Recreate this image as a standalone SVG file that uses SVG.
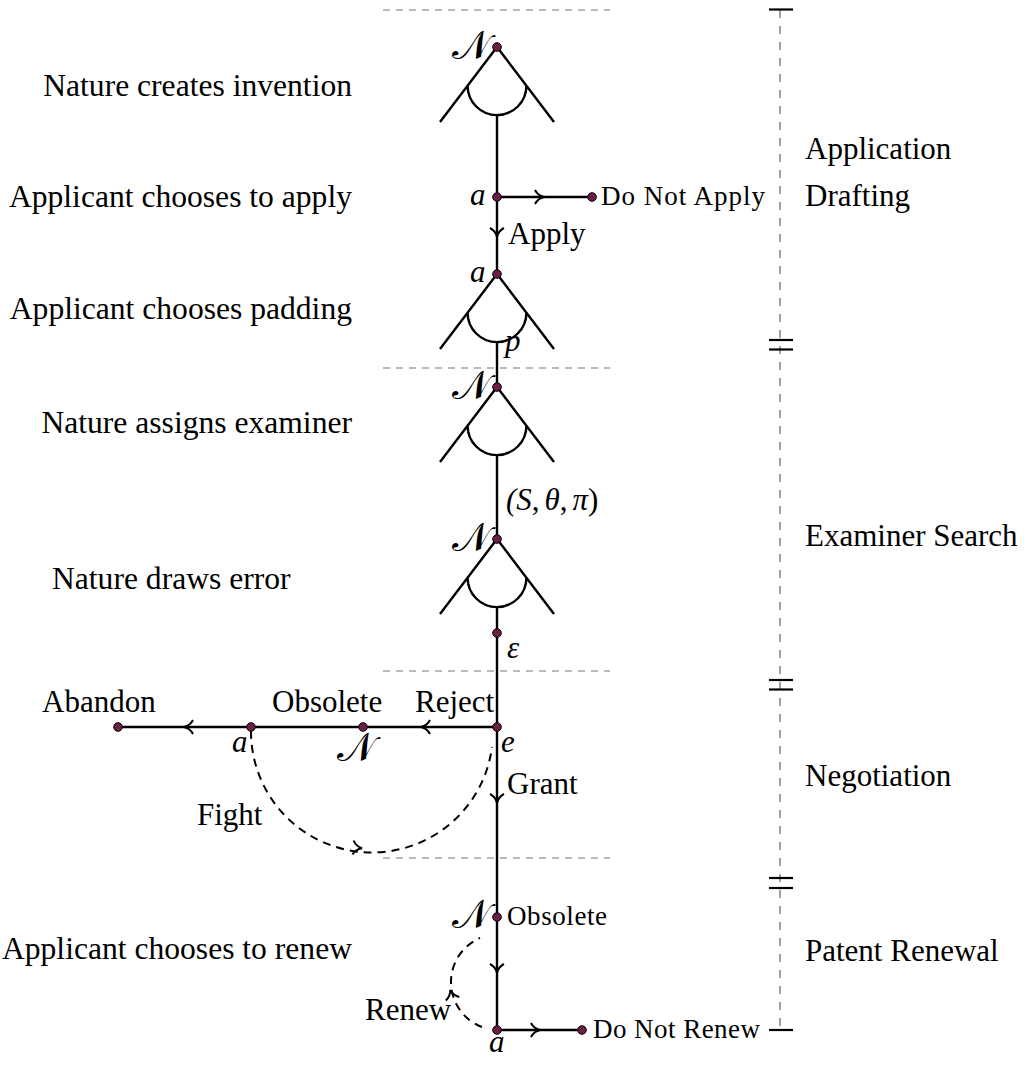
<svg xmlns="http://www.w3.org/2000/svg" xmlns:xlink="http://www.w3.org/1999/xlink" width="1024" height="1067" viewBox="0 0 1024 1067">
  <style>
    .edge { fill: none; stroke: #000; stroke-width: 2.4; stroke-linecap: butt; }
    .dash { fill: none; stroke: #000; stroke-width: 2; stroke-dasharray: 8 6; }
    .guide { fill: none; stroke: #777; stroke-width: 1.2; stroke-dasharray: 7 6; }
    .time { fill: none; stroke: #888; stroke-width: 1.6; stroke-dasharray: 8 8; }
    .tick { stroke: #000; stroke-width: 2.2; }
    .dot { fill: #6c1d45; stroke: #000; stroke-width: 1; }
    .chev { fill: none; stroke: #000; stroke-width: 2; stroke-linejoin: miter; }
    text { font-family: "Liberation Serif", "DejaVu Serif", serif; fill: #000; }
    .lbl { font-size: 31px; }
    .wide { font-size: 31.6px; }
    .sm { font-size: 27px; }
    .it { font-size: 31px; font-style: italic; }
    .cal { font-size: 40px; font-family: "DejaVu Serif", "DejaVu Sans", "Noto Sans", serif; }
    .end { text-anchor: end; }
  </style>
  <defs>
    <!-- arrow chevron pointing along +x, tip at origin -->
    <path id="chev" class="chev" d="M -6 -7 C -4 -3 -1 -1 3 0 C -1 1 -4 3 -6 7"/>
    <!-- chance / choice fan: apex at origin -->
    <g id="fan">
      <path class="edge" d="M 0 0 L -57 75 M 0 0 L 57 75 M -29.4 38.7 A 29.4 29.4 0 0 0 29.4 38.7"/>
    </g>
  </defs>

  <!-- stage separators -->
  <g id="guides">
    <line class="guide" x1="383" y1="10" x2="610" y2="10"/>
    <line class="guide" x1="383" y1="368" x2="610" y2="368"/>
    <line class="guide" x1="383" y1="671" x2="610" y2="671"/>
    <line class="guide" x1="383" y1="858" x2="610" y2="858"/>
  </g>

  <!-- timeline on the right -->
  <g id="timeline">
    <line class="time" x1="780" y1="10" x2="780" y2="1030"/>
    <line class="tick" x1="769" y1="9.5" x2="793" y2="9.5"/>
    <line class="tick" x1="769" y1="340" x2="793" y2="340"/>
    <line class="tick" x1="769" y1="349.5" x2="793" y2="349.5"/>
    <line class="tick" x1="769" y1="680" x2="793" y2="680"/>
    <line class="tick" x1="769" y1="689.5" x2="793" y2="689.5"/>
    <line class="tick" x1="769" y1="878" x2="793" y2="878"/>
    <line class="tick" x1="769" y1="888" x2="793" y2="888"/>
    <line class="tick" x1="769" y1="1030" x2="793" y2="1030"/>
    <text class="lbl" x="805" y="159">Application</text>
    <text class="lbl" x="805" y="206">Drafting</text>
    <text class="lbl" x="805" y="546">Examiner Search</text>
    <text class="lbl" x="805" y="786">Negotiation</text>
    <text class="lbl" x="805" y="961">Patent Renewal</text>
  </g>

  <!-- connectors -->
  <g id="connectors">
    <line class="edge" x1="497" y1="114" x2="497" y2="274"/>
    <line class="edge" x1="497" y1="197" x2="592" y2="197"/>
    <line class="edge" x1="497" y1="341" x2="497" y2="387"/>
    <line class="edge" x1="497" y1="454" x2="497" y2="539"/>
    <line class="edge" x1="497" y1="606" x2="497" y2="1030"/>
    <line class="edge" x1="497" y1="727" x2="118" y2="727"/>
    <line class="edge" x1="497" y1="1030" x2="582" y2="1030"/>
    <path class="dash" d="M 251 731 A 121 121 0 0 0 492 747"/>
    <path class="dash" d="M 482 1027 A 48 48 0 0 1 480 938"/>
    <use xlink:href="#chev" transform="translate(541 197)"/>
    <use xlink:href="#chev" transform="translate(497 234) rotate(90)"/>
    <use xlink:href="#chev" transform="translate(424 727) rotate(180)"/>
    <use xlink:href="#chev" transform="translate(187 727) rotate(180)"/>
    <use xlink:href="#chev" transform="translate(497 800) rotate(90)"/>
    <use xlink:href="#chev" transform="translate(359 848) rotate(5)"/>
    <use xlink:href="#chev" transform="translate(497 970) rotate(90)"/>
    <use xlink:href="#chev" transform="translate(451 993) rotate(-105)"/>
    <use xlink:href="#chev" transform="translate(537 1030)"/>
    <text class="lbl" x="508" y="244">Apply</text>
    <text class="lbl" x="415" y="712">Reject</text>
    <text class="lbl" x="272" y="712">Obsolete</text>
    <text class="lbl" x="507" y="794">Grant</text>
    <text class="lbl" x="197" y="825">Fight</text>
    <text class="lbl" x="365" y="1020">Renew</text>
    <text class="it" x="506" y="510">(<tspan>S</tspan><tspan font-style="normal">,</tspan><tspan dx="5">θ</tspan><tspan font-style="normal">,</tspan><tspan dx="5">π</tspan><tspan font-style="normal">)</tspan></text>
  </g>

  <!-- nodes -->
  <g id="n-invention">
    <use xlink:href="#fan" transform="translate(497 47)"/>
    <circle class="dot" cx="497" cy="47" r="4.3"/>
    <text class="cal" x="471" y="59" text-anchor="middle">𝒩</text>
    <text class="wide end" x="352" y="96">Nature creates invention</text>
  </g>
  <g id="n-apply">
    <circle class="dot" cx="497" cy="197" r="4.3"/>
    <text class="it" x="470" y="205">a</text>
    <text class="wide end" x="352" y="207">Applicant chooses to apply</text>
  </g>
  <g id="n-do-not-apply">
    <circle class="dot" cx="592" cy="197" r="4.3"/>
    <text class="sm" x="601" y="205" textLength="164">Do Not Apply</text>
  </g>
  <g id="n-padding">
    <use xlink:href="#fan" transform="translate(497 274)"/>
    <circle class="dot" cx="497" cy="274" r="4.3"/>
    <text class="it" x="470" y="282">a</text>
    <text class="it" x="505" y="351">p</text>
    <text class="wide end" x="352" y="319">Applicant chooses padding</text>
  </g>
  <g id="n-examiner">
    <use xlink:href="#fan" transform="translate(497 387)"/>
    <circle class="dot" cx="497" cy="387" r="4.3"/>
    <text class="cal" x="471" y="399" text-anchor="middle">𝒩</text>
    <text class="wide end" x="352" y="433">Nature assigns examiner</text>
  </g>
  <g id="n-error">
    <use xlink:href="#fan" transform="translate(497 539)"/>
    <circle class="dot" cx="497" cy="539" r="4.3"/>
    <text class="cal" x="471" y="551" text-anchor="middle">𝒩</text>
    <text class="wide" x="52" y="589">Nature draws error</text>
  </g>
  <g id="n-epsilon">
    <circle class="dot" cx="497" cy="633" r="4.3"/>
    <text class="it" x="507" y="658">ε</text>
  </g>
  <g id="n-examine">
    <circle class="dot" cx="497" cy="727" r="4.3"/>
    <text class="it" x="501" y="752">e</text>
  </g>
  <g id="n-obsolete-chance">
    <circle class="dot" cx="363" cy="727" r="4.3"/>
    <text class="cal" x="356" y="761" text-anchor="middle">𝒩</text>
  </g>
  <g id="n-fight">
    <circle class="dot" cx="251" cy="727" r="4.3"/>
    <text class="it" x="232" y="752">a</text>
  </g>
  <g id="n-abandon">
    <circle class="dot" cx="118" cy="727" r="4.3"/>
    <text class="lbl" x="42" y="712">Abandon</text>
  </g>
  <g id="n-renew-chance">
    <circle class="dot" cx="497" cy="917" r="4.3"/>
    <text class="cal" x="471" y="928" text-anchor="middle">𝒩</text>
    <text class="sm" x="507" y="925" textLength="100">Obsolete</text>
  </g>
  <g id="n-renew">
    <circle class="dot" cx="497" cy="1030" r="4.3"/>
    <text class="it" x="489" y="1052">a</text>
    <text class="wide end" x="352" y="959">Applicant chooses to renew</text>
  </g>
  <g id="n-do-not-renew">
    <circle class="dot" cx="582" cy="1030" r="4.3"/>
    <text class="sm" x="593" y="1038" textLength="167">Do Not Renew</text>
  </g>
</svg>
